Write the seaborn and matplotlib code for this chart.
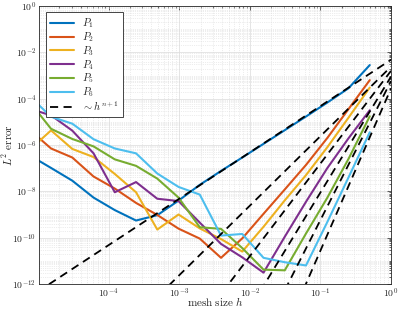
import numpy as np
import pandas as pd
import seaborn as sns
import matplotlib.pyplot as plt
from matplotlib.lines import Line2D
from matplotlib.ticker import LogLocator, FixedLocator, FixedFormatter, NullFormatter

# mesh sizes h = 1/2, 1/4, ..., 1/2^17
mesh_h = [2.0**-1, 2.0**-2, 2.0**-3, 2.0**-4, 2.0**-5, 2.0**-6, 2.0**-7, 2.0**-8, 2.0**-9,
          2.0**-10, 2.0**-11, 2.0**-12, 2.0**-13, 2.0**-14, 2.0**-15, 2.0**-16, 2.0**-17]

# log10 of L2 error (coarse -> fine)
err_p1 = [-2.55, -3.55, -4.17, -4.77, -5.36, -5.95, -6.54, -7.12, -7.72, -8.40, -9.03, -9.26, -8.81, -8.27, -7.54, -6.99, -6.45]
err_p2 = [-3.20, -4.45, -5.70, -6.86, -7.92, -8.97, -10.03, -10.87, -10.04, -9.61, -9.02, -8.50, -7.88, -7.36, -6.54, -6.15, -5.35]
err_p3 = [-3.52, -4.82, -6.10, -7.30, -8.39, -9.53, -10.60, -10.06, -9.60, -9.00, -9.65, -8.04, -7.25, -6.52, -6.17, -5.37, -6.20]
err_p4 = [-4.50, -5.71, -7.00, -8.45, -9.96, -11.51, -10.85, -10.27, -9.35, -8.42, -8.32, -7.60, -8.04, -6.36, -5.38, -4.72, -4.44]
err_p5 = [-4.76, -6.60, -8.28, -9.82, -11.41, -11.38, -10.45, -9.62, -9.55, -8.27, -7.45, -6.90, -6.62, -6.06, -5.74, -5.30, -4.15]
err_p6 = [-5.45, -7.40, -9.33, -11.20, -11.06, -10.87, -9.84, -9.91, -8.14, -7.81, -7.23, -6.36, -6.15, -5.75, -5.08, -4.78, -3.90]

labels = ['$P_1$', '$P_2$', '$P_3$', '$P_4$', '$P_5$', '$P_6$']
# log10 of constant C in the reference lines C*h^(n+1)
ref_logc = [-2.32, -2.62, -2.80, -3.05, -3.24, -3.56]

colors = ['#0072BD', '#D95319', '#EDB120', '#7E2F8E', '#77AC30', '#4DBEEE']

rows = []
for lab, e in zip(labels, [err_p1, err_p2, err_p3, err_p4, err_p5, err_p6]):
    for h, v in zip(mesh_h, e):
        rows.append({'h': h, 'error': 10.0**v, 'scheme': lab})
df = pd.DataFrame(rows)

sns.set_style('white')
plt.rcParams['font.family'] = ['DejaVu Serif']
plt.rcParams['mathtext.fontset'] = 'cm'

fig = plt.figure(figsize=(3.99, 3.13), dpi=100)
ax = fig.add_axes([39/399, 1-284/313, 352/399, 278/313])

sns.lineplot(data=df, x='h', y='error', hue='scheme', palette=colors, lw=1.5,
             estimator=None, legend=False, ax=ax)

href = np.array([1e-6, 1.0])
for n, lc in enumerate(ref_logc, start=1):
    ax.plot(href, 10.0**lc * href**(n+1), color='k', ls='--', lw=1.3, dashes=(4.5, 3))

ax.set_xscale('log')
ax.set_yscale('log')
ax.set_xlim(1.03e-5, 1)
ax.set_ylim(1e-12, 1)

xt = [1e-4, 1e-3, 1e-2, 1e-1, 1e0]
ax.xaxis.set_major_locator(FixedLocator(xt))
ax.xaxis.set_major_formatter(FixedFormatter(['$10^{-4}$', '$10^{-3}$', '$10^{-2}$', '$10^{-1}$', '$10^{0}$']))
ax.xaxis.set_minor_locator(LogLocator(base=10, subs=np.arange(2, 10), numticks=50))
ax.xaxis.set_minor_formatter(NullFormatter())
yt = [1e-12, 1e-10, 1e-8, 1e-6, 1e-4, 1e-2, 1e0]
ax.yaxis.set_major_locator(FixedLocator(yt))
ax.yaxis.set_major_formatter(FixedFormatter(['$10^{-12}$', '$10^{-10}$', '$10^{-8}$', '$10^{-6}$',
                                             '$10^{-4}$', '$10^{-2}$', '$10^{0}$']))
ax.yaxis.set_minor_locator(LogLocator(base=10, subs=np.arange(1, 10), numticks=50))
ax.yaxis.set_minor_formatter(NullFormatter())

ax.grid(True, which='major', color='0.86', lw=0.5)
ax.grid(True, which='minor', color='0.86', lw=0.5, ls=':')
ax.tick_params(which='both', direction='in', top=True, right=True, colors='0.15',
               labelsize=7, pad=2)
ax.tick_params(which='major', length=3, width=0.5)
ax.tick_params(which='minor', length=1.5, width=0.5)
for s in ax.spines.values():
    s.set_color('0.15')
    s.set_linewidth(0.6)

ax.set_xlabel(r'$\mathrm{mesh\ size}\ h$', fontsize=8)
ax.set_ylabel(r'$L^2\ \mathrm{error}$', fontsize=8)
ax.xaxis.set_label_coords(0.5, -0.04)
ax.yaxis.set_label_coords(-0.068, 0.5)

handles = [Line2D([], [], color=c, lw=1.5) for c in colors]
handles.append(Line2D([], [], color='k', ls='--', lw=1.3, dashes=(4.5, 3)))
leg = ax.legend(handles, labels + [r'$\sim h^{n+1}$'], loc='upper left',
                bbox_to_anchor=(0.019, 0.977), borderaxespad=0, fancybox=False,
                edgecolor='0.15', framealpha=1, fontsize=7.5, handlelength=2.3,
                labelspacing=0.0, borderpad=0.4, handletextpad=0.8)
leg.get_frame().set_linewidth(0.6)

fig.savefig('out.png', dpi=100)
